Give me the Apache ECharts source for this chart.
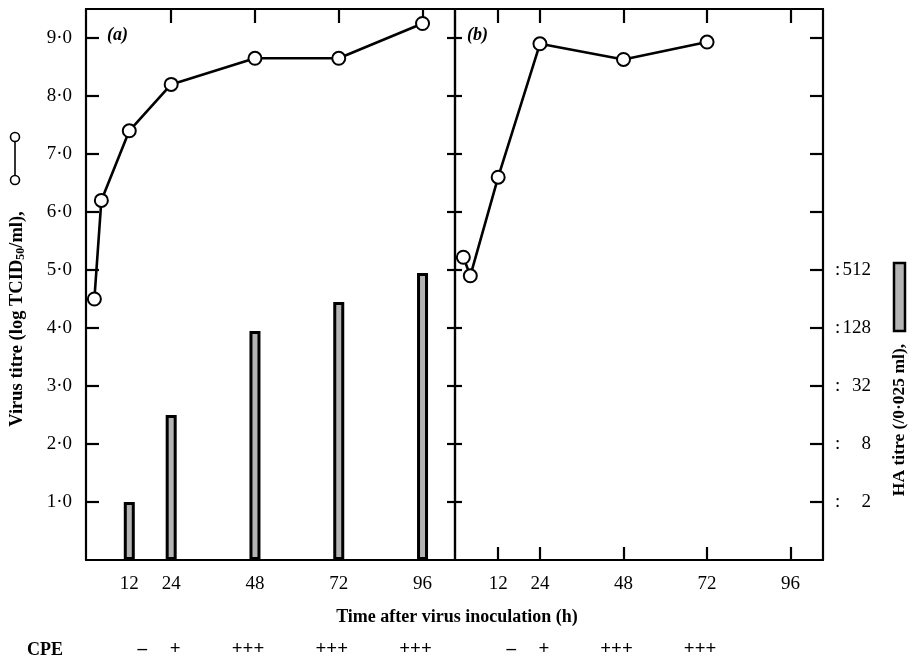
<!DOCTYPE html>
<html>
<head>
<meta charset="utf-8">
<title>Virus titre / HA titre</title>
<script src="https://cdn.jsdelivr.net/npm/echarts@6/dist/echarts.min.js"></script>
<style>
  html, body { margin: 0; padding: 0; background: #fff; }
  #main { width: 914px; height: 661px; }
</style>
</head>
<body>
<div id="main"></div>
<script>
// ---- data ----
// panel (a)
var hoursA = [2, 4, 12, 24, 48, 72, 96];
var virusA = [4.5, 6.2, 7.4, 8.2, 8.65, 8.65, 9.25];
var barHoursA = [12, 24, 48, 72, 96];
var haA = [1.0, 2.5, 3.95, 4.45, 4.95];   // on the HA scale: 1 = 1:2, each step x4
// panel (b)
var hoursB = [2, 4, 12, 24, 48, 72];
var virusB = [5.22, 4.9, 6.6, 8.9, 8.63, 8.93];

var xTicks = [12, 24, 48, 72, 96];
var xTopTicksA = [24, 48, 72, 96];
var yTicks = [1, 2, 3, 4, 5, 6, 7, 8, 9];
var haTickValues = [1, 2, 3, 4, 5];
var haTickLabels = ['2', '8', '32', '128', '512'];
var cpeA = ['–', '+', '+++', '+++', '+++'];
var cpeB = ['–', '+', '+++', '+++'];

var FONT = "'Liberation Serif', 'DejaVu Serif', serif";
var BAR_GREY = '#b4b4b4';

function pairs(xs, ys) {
    var out = [];
    for (var i = 0; i < xs.length; i++) out.push([xs[i], ys[i]]);
    return out;
}
function cpeFormatter(list) {
    return function (v) {
        var s = list[xTicks.indexOf(v)];
        if (s === undefined) return '';
        if (s === '–') return '{d|–}';
        if (s === '+++') return '{t|+++}';
        return '{p|+}';
    };
}
var cpeRich = {
    d: { fontFamily: FONT, fontSize: 19, fontWeight: 'bold', color: '#000', padding: [0, 0, 0, 26] },
    p: { fontFamily: FONT, fontSize: 19, fontWeight: 'bold', color: '#000', padding: [0, 0, 0, 8] },
    t: { fontFamily: FONT, fontSize: 19, fontWeight: 'bold', color: '#000', padding: [0, 14, 0, 0] }
};

var line2 = { show: true, onZero: false, lineStyle: { color: '#000', width: 2.2 } };
var noLine = { show: false, onZero: false };

function xAxisCfg(grid, pos, opts) {
    var a = {
        type: 'value', gridIndex: grid, position: pos, min: -0.4, max: 105.3,
        splitLine: { show: false },
        axisLine: line2,
        axisTick: { show: false },
        axisLabel: { show: false }
    };
    for (var k in opts) a[k] = opts[k];
    return a;
}
function yAxisCfg(grid, pos, opts) {
    var a = {
        type: 'value', gridIndex: grid, position: pos, min: 0, max: 9.5,
        splitLine: { show: false },
        axisLine: line2,
        axisTick: { show: false },
        axisLabel: { show: false }
    };
    for (var k in opts) a[k] = opts[k];
    return a;
}
function ticks(values, len) {
    return { show: true, inside: true, length: len, customValues: values, lineStyle: { color: '#000', width: 2.2 } };
}
var xLabel = {
    show: true, customValues: xTicks, margin: 15,
    fontFamily: FONT, fontSize: 19, color: '#000'
};

var chart = echarts.init(document.getElementById('main'));
chart.setOption({
    animation: false,
    grid: [
        { left: 86, top: 9, width: 369, height: 551 },
        { left: 455, top: 9, width: 368, height: 551 }
    ],
    xAxis: [
        xAxisCfg(0, 'bottom', { axisLabel: xLabel }),
        xAxisCfg(0, 'top', { axisTick: ticks(xTopTicksA, 14) }),
        xAxisCfg(1, 'bottom', { axisTick: ticks(xTicks, 13), axisLabel: xLabel }),
        xAxisCfg(1, 'top', { axisTick: ticks(xTicks, 14) }),
        xAxisCfg(0, 'bottom', {
            offset: 72, axisLine: noLine,
            axisLabel: { show: true, customValues: xTicks, margin: 8, formatter: cpeFormatter(cpeA), rich: cpeRich }
        }),
        xAxisCfg(1, 'bottom', {
            offset: 72, axisLine: noLine,
            axisLabel: { show: true, customValues: xTicks, margin: 8, formatter: cpeFormatter(cpeB), rich: cpeRich }
        })
    ],
    yAxis: [
        yAxisCfg(0, 'left', {
            axisTick: ticks(yTicks, 13),
            axisLabel: {
                show: true, customValues: yTicks, margin: 14,
                fontFamily: FONT, fontSize: 19, color: '#000',
                formatter: function (v) { return v.toFixed(1).replace('.', '·'); }
            }
        }),
        yAxisCfg(0, 'right', { axisTick: ticks(yTicks, 8) }),
        yAxisCfg(1, 'left', { axisTick: ticks(yTicks, 7) }),
        yAxisCfg(1, 'right', {
            axisTick: ticks(yTicks, 13),
            axisLabel: {
                show: true, customValues: haTickValues, margin: 12, align: 'left',
                formatter: function (v) {
                    var i = haTickValues.indexOf(v);
                    return i < 0 ? '' : '{c|:}{n|' + haTickLabels[i] + '}';
                },
                rich: {
                    c: { fontFamily: FONT, fontSize: 19, color: '#000', width: 6, align: 'left' },
                    n: { fontFamily: FONT, fontSize: 19, color: '#000', width: 30, align: 'right' }
                }
            }
        })
    ],
    series: [
        {
            type: 'bar', xAxisIndex: 0, yAxisIndex: 0,
            data: pairs(barHoursA, haA),
            barWidth: 11,
            itemStyle: { color: BAR_GREY, borderColor: '#000', borderWidth: 3 },
            z: 2
        },
        {
            type: 'line', xAxisIndex: 0, yAxisIndex: 0,
            data: pairs(hoursA, virusA),
            symbol: 'circle', symbolSize: 13, clip: false,
            lineStyle: { color: '#000', width: 2.6 },
            itemStyle: { color: '#fff', borderColor: '#000', borderWidth: 2 },
            z: 3
        },
        {
            type: 'line', xAxisIndex: 2, yAxisIndex: 2,
            data: pairs(hoursB, virusB),
            symbol: 'circle', symbolSize: 13, clip: false,
            lineStyle: { color: '#000', width: 2.6 },
            itemStyle: { color: '#fff', borderColor: '#000', borderWidth: 2 },
            z: 3
        }
    ],
    graphic: [
        // left axis title with its line-and-circle key
        {
            type: 'text', x: 17, y: 319, rotation: Math.PI / 2,
            style: {
                text: '{a|Virus titre (log TCID}{s|50}{a|/ml),}',
                align: 'center', verticalAlign: 'middle',
                rich: {
                    a: { fontFamily: FONT, fontSize: 18.5, fontWeight: 'bold', fill: '#000' },
                    s: { fontFamily: FONT, fontSize: 12, fontWeight: 'bold', fill: '#000', padding: [8, 0, 0, 0] }
                }
            }
        },
        { type: 'line', shape: { x1: 15, y1: 141, x2: 15, y2: 176 }, style: { stroke: '#000', lineWidth: 1.6 } },
        { type: 'circle', shape: { cx: 15, cy: 137, r: 4.5 }, style: { fill: '#fff', stroke: '#000', lineWidth: 1.6 } },
        { type: 'circle', shape: { cx: 15, cy: 180, r: 4.5 }, style: { fill: '#fff', stroke: '#000', lineWidth: 1.6 } },
        // right axis title with bar key
        {
            type: 'text', x: 899, y: 420, rotation: Math.PI / 2,
            style: {
                text: 'HA titre (/0·025 ml),', align: 'center', verticalAlign: 'middle',
                fontFamily: FONT, fontSize: 17.5, fontWeight: 'bold', fill: '#000'
            }
        },
        { type: 'rect', shape: { x: 894, y: 263, width: 11, height: 68 }, style: { fill: BAR_GREY, stroke: '#000', lineWidth: 2.5 } },
        // x title, CPE, panel letters
        {
            type: 'text', x: 457, y: 617,
            style: {
                text: 'Time after virus inoculation (h)', align: 'center', verticalAlign: 'middle',
                fontFamily: FONT, fontSize: 18, fontWeight: 'bold', fill: '#000'
            }
        },
        {
            type: 'text', x: 27, y: 650,
            style: { text: 'CPE', align: 'left', verticalAlign: 'middle', fontFamily: FONT, fontSize: 18, fontWeight: 'bold', fill: '#000' }
        },
        {
            type: 'text', x: 107, y: 35,
            style: { text: '(a)', align: 'left', verticalAlign: 'middle', fontFamily: FONT, fontSize: 18, fontStyle: 'italic', fontWeight: 'bold', fill: '#000' }
        },
        {
            type: 'text', x: 467, y: 35,
            style: { text: '(b)', align: 'left', verticalAlign: 'middle', fontFamily: FONT, fontSize: 18, fontStyle: 'italic', fontWeight: 'bold', fill: '#000' }
        }
    ]
});
</script>
</body>
</html>
